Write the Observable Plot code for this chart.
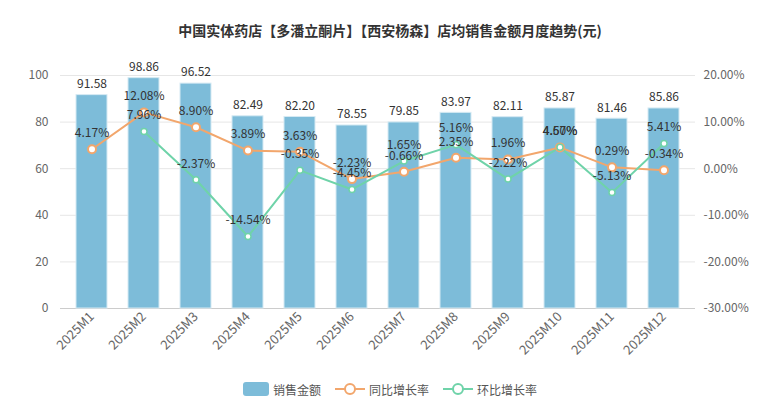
<!DOCTYPE html>
<html><head><meta charset="utf-8">
<script src="https://cdn.jsdelivr.net/npm/d3@7"></script>
<script src="https://cdn.jsdelivr.net/npm/@observablehq/plot@0.6"></script>
<style>
body{margin:0;background:#fff;font-family:"Noto Sans CJK SC","Noto Sans",sans-serif;}
#title{height:50px;line-height:60px;text-align:center;font-size:14px;font-weight:bold;color:#333;}
#legend{height:30px;display:flex;justify-content:center;align-items:center;gap:14px;font-size:12px;color:#555;padding-top:8px;box-sizing:border-box;}
.li{display:flex;align-items:center;gap:4px;}
</style></head>
<body>
<div id="title">中国实体药店【多潘立酮片】【西安杨森】店均销售金额月度趋势(元)</div>
<div id="chart"></div>
<div id="legend">
 <div class="li"><svg width="26" height="14"><rect x="0" y="0" width="26" height="14" rx="3" fill="#7dbcd9"/></svg>销售金额</div>
 <div class="li"><svg width="30" height="14"><line x1="0" y1="7" x2="30" y2="7" stroke="#f2a66c" stroke-width="2"/><circle cx="15" cy="7" r="5" fill="#fff" stroke="#f2a66c" stroke-width="2"/></svg>同比增长率</div>
 <div class="li"><svg width="30" height="14"><line x1="0" y1="7" x2="30" y2="7" stroke="#6fd3a9" stroke-width="2"/><circle cx="15" cy="7" r="5" fill="#fff" stroke="#6fd3a9" stroke-width="2"/></svg>环比增长率</div>
</div>
<script>
const months = ["2025M1","2025M2","2025M3","2025M4","2025M5","2025M6","2025M7","2025M8","2025M9","2025M10","2025M11","2025M12"];
const sales = [91.58,98.86,96.52,82.49,82.20,78.55,79.85,83.97,82.11,85.87,81.46,85.86];
const yoy = [4.17,12.08,8.90,3.89,3.63,-2.23,-0.66,2.35,1.96,4.57,0.29,-0.34];
const mom = [null,7.96,-2.37,-14.54,-0.35,-4.45,1.65,5.16,-2.22,4.60,-5.13,5.41];
const leftTicks = [0,20,40,60,80,100];
const rightTicks = [-30,-20,-10,0,10,20];

// map percent onto left scale: -30% -> 0, 20% -> 100
const toY = p => (p + 30) * 2;
const rows = months.map((m,i)=>({m, s:sales[i], yoy:yoy[i], mom:mom[i]}));
const momRows = rows.filter(d=>d.mom!=null);

const chart = Plot.plot({
  width:780, height:320,
  marginLeft:60, marginRight:85, marginTop:25, marginBottom:62,
  style:{fontFamily:'"Noto Sans CJK SC","Noto Sans",sans-serif', fontSize:"12px", color:"#666"},
  x:{type:"band", domain:months, paddingInner:0.4, paddingOuter:0.2, label:null},
  y:{domain:[0,100], label:null},
  marks:[
    Plot.gridY(leftTicks,{stroke:"#e6e6e6", strokeOpacity:1}),
    Plot.ruleY([0],{stroke:"#ccc"}),
    Plot.axisY(leftTicks,{anchor:"left", tickSize:0, tickPadding:12, label:null, fill:"#666", fontSize:12}),
    Plot.axisY(rightTicks.map(toY),{anchor:"right", tickSize:0, tickPadding:8, label:null, fill:"#666", fontSize:12,
      tickFormat: v => (v/2-30).toFixed(2)+"%"}),
    Plot.axisX({tickRotate:-45, tickSize:0, tickPadding:6, label:null, fill:"#666", fontSize:13}),
    Plot.barY(rows,{x:"m", y:"s", fill:"#7dbcd9", stroke:"#d6eaf3", strokeWidth:1}),
    Plot.text(rows,{x:"m", y:"s", text:d=>d.s.toFixed(2), dy:-11, fill:"#333", fontSize:12}),
    Plot.line(rows,{x:"m", y:d=>toY(d.yoy), stroke:"#f2a66c", strokeWidth:2}),
    Plot.line(momRows,{x:"m", y:d=>toY(d.mom), stroke:"#6fd3a9", strokeWidth:2}),
    Plot.dot(rows,{x:"m", y:d=>toY(d.yoy), r:4, fill:"#fff", stroke:"#f2a66c", strokeWidth:2}),
    Plot.dot(momRows,{x:"m", y:d=>toY(d.mom), r:3, fill:"#fff", stroke:"#6fd3a9", strokeWidth:1.5}),
    Plot.text(rows,{x:"m", y:d=>toY(d.yoy), text:d=>d.yoy.toFixed(2)+"%", dy:-16, fill:"#333", fontSize:12}),
    Plot.text(momRows,{x:"m", y:d=>toY(d.mom), text:d=>d.mom.toFixed(2)+"%", dy:-16, fill:"#333", fontSize:12})
  ]
});
document.getElementById("chart").appendChild(chart);
</script>
</body></html>
